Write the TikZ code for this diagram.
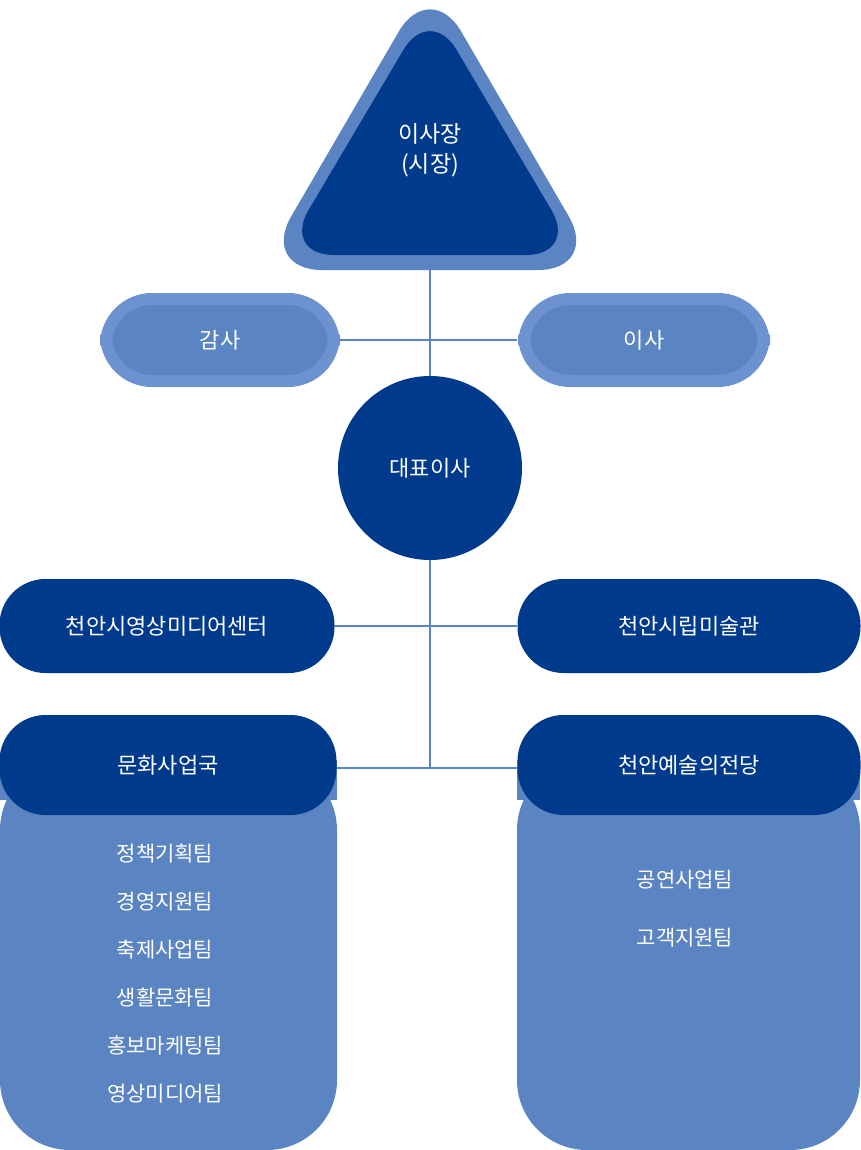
\documentclass[tikz,border=0pt]{standalone}
\usepackage{fontspec}
\setmainfont{Noto Sans CJK KR}
\definecolor{navy}{RGB}{0,58,140}
\definecolor{sky}{RGB}{91,132,194}
\definecolor{skyring}{RGB}{108,146,208}
\tikzset{
  pill/.style={rounded corners=46pt, minimum height=94pt, text=white, font=\fontsize{22}{26}\selectfont},
  darkpill/.style={pill, fill=navy},
  lightpill/.style={pill, fill=sky, draw=skyring, line width=12pt, minimum height=82pt},
  link/.style={draw=sky, line width=2.5pt},
  team/.style={text=white, font=\fontsize{21}{25}\selectfont}
}
\begin{document}
\begin{tikzpicture}[x=1pt,y=-1pt]
\useasboundingbox (0,0) rectangle (860,1150);
% lines
\coordinate (top) at (430,260);
\coordinate (bot) at (430,768);
\draw[link] (top) -- (bot);
\draw[link] (340,340) -- (517,340);
\draw[link] (335,626) -- (517,626);
\draw[link] (337,768) -- (517,768);
% chair
\fill[sky, rounded corners=62pt] (430,-22) -- (600,270) -- (260,270) -- cycle;
\fill[navy, rounded corners=52pt] (430,5) -- (578,255) -- (282,255) -- cycle;
\node[text=white, align=center, font=\fontsize{23}{30}\selectfont] (chair) at (430,150) {이사장\\(시장)};
% audit and board
\node[lightpill, minimum width=228pt] (audit) at (220,340) {감사};
\node[lightpill, minimum width=240pt] (board) at (644,340) {이사};
% ceo
\node[circle, fill=navy, minimum size=184pt, text=white, font=\fontsize{22}{26}\selectfont] (ceo) at (430,468) {대표이사};
% centers
\node[darkpill, minimum width=335pt] (media) at (167,626) {천안시영상미디어센터};
\node[darkpill, minimum width=343pt] (museum) at (689,626) {천안시립미술관};
% divisions
\fill[sky, rounded corners=70pt] (0,760) -- (0,1150) -- (337,1150) -- (337,760) -- cycle;
\fill[sky] (0,760) rectangle (337,800);
\fill[sky, rounded corners=70pt] (517,760) -- (517,1150) -- (860,1150) -- (860,760) -- cycle;
\fill[sky] (517,760) rectangle (860,800);
\node[darkpill, minimum width=337pt, minimum height=100pt] (culture) at (168,765) {문화사업국};
\node[darkpill, minimum width=343pt, minimum height=100pt] (arts) at (689,765) {천안예술의전당};
% teams
\node[team, align=center, font=\fontsize{21}{48}\selectfont] (lteams) at (165,974) {정책기획팀\\경영지원팀\\축제사업팀\\생활문화팀\\홍보마케팅팀\\영상미디어팀};
\node[team, align=center, font=\fontsize{21}{58}\selectfont] (rteams) at (685,909) {공연사업팀\\고객지원팀};
\end{tikzpicture}
\end{document}
